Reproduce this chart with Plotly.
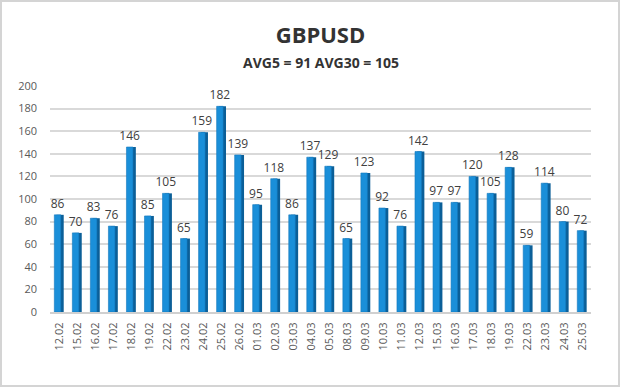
import plotly.graph_objects as go

dates = ["12.02", "15.02", "16.02", "17.02", "18.02", "19.02", "22.02", "23.02", "24.02", "25.02",
         "26.02", "01.03", "02.03", "03.03", "04.03", "05.03", "08.03", "09.03", "10.03", "11.03",
         "12.03", "15.03", "16.03", "17.03", "18.03", "19.03", "22.03", "23.03", "24.03", "25.03"]
values = [86, 70, 83, 76, 146, 85, 105, 65, 159, 182,
          139, 95, 118, 86, 137, 129, 65, 123, 92, 76,
          142, 97, 97, 120, 105, 128, 59, 114, 80, 72]
y_ticks = [0, 20, 40, 60, 80, 100, 120, 140, 160, 180, 200]
title_text = "GBPUSD"
subtitle_text = "AVG5 = 91 AVG30 = 105"

W, H = 620, 387
ML, MR, MT, MB = 50, 29, 86, 75
pw, ph = W - ML - MR, H - MT - MB
FONT = "Open Sans, DejaVu Sans"

fig = go.Figure()
# side (shadow) face
fig.add_trace(go.Bar(
    x=dates, y=values, width=0.4, offset=-0.14,
    marker=dict(color="#0b5f98", line=dict(width=0)),
    hoverinfo="skip", showlegend=False,
))
# front face
fig.add_trace(go.Bar(
    x=dates, y=values, width=0.36, offset=-0.26,
    marker=dict(color="#1a8fd9", line=dict(color="#1479bd", width=0.6)),
    text=[str(v) for v in values], textposition="outside", constraintext="none",
    textfont=dict(family=FONT, size=12, color="#404040"),
    cliponaxis=False, showlegend=False,
))

fig.update_layout(
    width=W, height=H,
    margin=dict(l=ML, r=MR, t=MT, b=MB),
    paper_bgcolor="white", plot_bgcolor="white",
    barmode="overlay",
    title=dict(
        text="<b>" + title_text + "</b>",
        x=0.5, xanchor="center", xref="paper",
        y=1 - 35 / H, yanchor="middle", yref="container",
        font=dict(family=FONT, size=22, color="#333333"),
    ),
    annotations=[dict(
        text="<b>" + subtitle_text + "</b>", showarrow=False,
        xref="paper", yref="paper", x=0.5, y=1 + (MT - 62) / ph,
        xanchor="center", yanchor="middle",
        font=dict(family=FONT, size=14, color="#333333"),
    )],
    xaxis=dict(
        type="category", tickangle=-90,
        tickfont=dict(family=FONT, size=11, color="#595959"),
        showgrid=False, showline=True, linecolor="#d0d0d0", linewidth=2,
        ticks="", range=[-0.5, 29.5], ticklabelstandoff=4,
    ),
    yaxis=dict(
        range=[0, 200], tickvals=y_ticks,
        tickfont=dict(family=FONT, size=11, color="#595959"),
        showgrid=True, gridcolor="#d9d9d9", gridwidth=1.5,
        zeroline=False, showline=False, ticks="", ticklabelstandoff=12,
    ),
    shapes=[dict(
        type="rect", xref="paper", yref="paper",
        x0=-(ML - 1) / pw, x1=1 + (MR - 1) / pw,
        y0=-(MB - 1) / ph, y1=1 + (MT - 1) / ph,
        line=dict(color="#d4d4d4", width=2), fillcolor="rgba(0,0,0,0)", layer="below",
    )],
)

fig.write_html("out.html", config={"displayModeBar": False},
               post_script="document.body.style.margin='0';")
